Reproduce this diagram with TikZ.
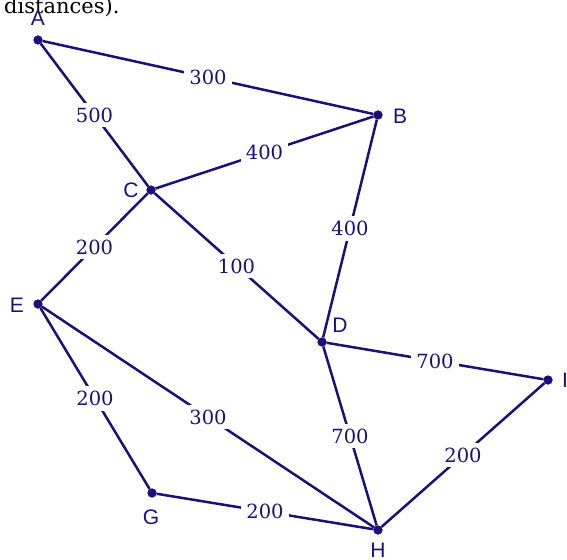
\documentclass[tikz,border=0pt]{standalone}
\usepackage{fontspec}
\newfontfamily\labfont{Liberation Sans}
\newfontfamily\numfont{DejaVu Serif}
\definecolor{navy}{RGB}{27,16,122}
\tikzset{
  vert/.style={circle,fill=navy,inner sep=0pt,minimum size=9pt},
  vlab/.style={text=navy,font=\labfont\fontsize{21}{21}\selectfont,inner sep=0pt},
  edge/.style={draw=navy,line width=2.5pt},
  wlab/.style={fill=white,text=navy,font=\numfont\fontsize{19.5}{19.5}\selectfont,inner sep=5pt},
}
\begin{document}
\begin{tikzpicture}[x=1pt,y=-1pt]
\useasboundingbox (0,0) rectangle (567,559);
\clip (0,0) rectangle (567,559);
\node[anchor=base west,inner sep=0pt,font=\numfont\fontsize{21}{21}\selectfont] (cap) at (4,14) {distances).};
\node[vert] (A) at (38,40) {};
\node[vert] (B) at (378,115) {};
\node[vert] (C) at (151,190) {};
\node[vert] (D) at (322,342) {};
\node[vert] (E) at (38,304) {};
\node[vert] (G) at (152,493) {};
\node[vert] (H) at (378,530) {};
\node[vert] (I) at (548,380) {};
\node[vlab] (lA) at (38,18) {A};
\node[vlab] (lB) at (400,116) {B};
\node[vlab] (lC) at (131,190) {C};
\node[vlab] (lD) at (340,325) {D};
\node[vlab] (lE) at (17,305) {E};
\node[vlab] (lG) at (151,517) {G};
\node[vlab] (lH) at (378,550) {H};
\node[vlab,anchor=west] (lI) at (562,380) {I};
\draw[edge] (A) -- node[wlab] {300} (B);
\draw[edge] (A) -- node[wlab,pos=0.5] {500} (C);
\draw[edge] (C) -- node[wlab] {400} (B);
\draw[edge] (C) -- node[wlab] {200} (E);
\draw[edge] (C) -- node[wlab] {100} (D);
\draw[edge] (B) -- node[wlab] {400} (D);
\draw[edge] (D) -- node[wlab] {700} (I);
\draw[edge] (E) -- node[wlab] {200} (G);
\draw[edge] (E) -- node[wlab,pos=0.5] {300} (H);
\draw[edge] (D) -- node[wlab] {700} (H);
\draw[edge] (I) -- node[wlab] {200} (H);
\draw[edge] (G) -- node[wlab] {200} (H);
\node[vert] at (A) {};\node[vert] at (B) {};\node[vert] at (C) {};\node[vert] at (D) {};
\node[vert] at (E) {};\node[vert] at (G) {};\node[vert] at (H) {};\node[vert] at (I) {};
\end{tikzpicture}
\end{document}
